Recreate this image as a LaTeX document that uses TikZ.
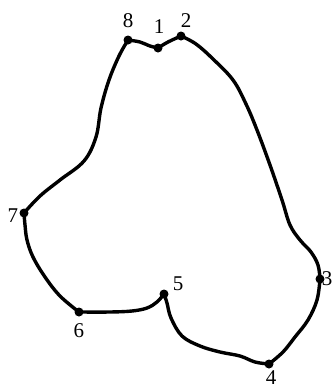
\documentclass[tikz,border=0pt]{standalone}
\usepackage{fontspec}
\setmainfont{Liberation Serif}
\begin{document}
\begin{tikzpicture}[x=1pt,y=-1pt,
  curve/.style={line width=3.4pt,line cap=round,line join=round},
  dot/.style={circle,fill=black,inner sep=0pt,minimum size=9pt},
  lab/.style={font=\fontsize{21}{21}\selectfont,inner sep=0pt}]
\useasboundingbox (0,0) rectangle (334,389);
% vertices
\node[dot] (p1) at (158,48) {};
\node[dot] (p2) at (181,36) {};
\node[dot] (p3) at (320,279) {};
\node[dot] (p4) at (269,364) {};
\node[dot] (p5) at (164,294) {};
\node[dot] (p6) at (79,312) {};
\node[dot] (p7) at (24,213) {};
\node[dot] (p8) at (128,40) {};
% curve segments
\draw[curve] plot[smooth,tension=0.6] coordinates {(128,40) (140,42) (150,46) (158,48)};
\draw[curve] plot[smooth,tension=0.6] coordinates {(158,48) (168,42) (181,36)};
\draw[curve] plot[smooth,tension=0.6] coordinates {(181,36) (196,44) (213,59) (233,80) (246,104) (257,130) (270,165) (282,200) (290,225) (300,240) (311,252) (318,265) (320,279)};
\draw[curve] plot[smooth,tension=0.6] coordinates {(320,279) (317,300) (308,320) (295,337) (283,352) (269,364)};
\draw[curve] plot[smooth,tension=0.6] coordinates {(269,364) (255,362) (240,356) (220,352) (200,346) (182,336) (171,318) (167,303) (164,294)};
\draw[curve] plot[smooth,tension=0.6] coordinates {(164,294) (157,302) (147,308) (132,311) (110,312) (79,312)};
\draw[curve] plot[smooth,tension=0.6] coordinates {(79,312) (60,296) (45,277) (33,257) (27,240) (25,225) (24,213)};
\draw[curve] plot[smooth,tension=0.6] coordinates {(24,213) (40,196) (60,180) (84,161) (96,137) (101,108) (109,80) (119,56) (128,40)};
% labels
\node[lab] (l1) at (159,27) {1};
\node[lab] (l2) at (186,21) {2};
\node[lab] (l3) at (327,279) {3};
\node[lab] (l4) at (271,378) {4};
\node[lab] (l5) at (178,284) {5};
\node[lab] (l6) at (79,331) {6};
\node[lab] (l7) at (13,216) {7};
\node[lab] (l8) at (128,21) {8};
\end{tikzpicture}
\end{document}
